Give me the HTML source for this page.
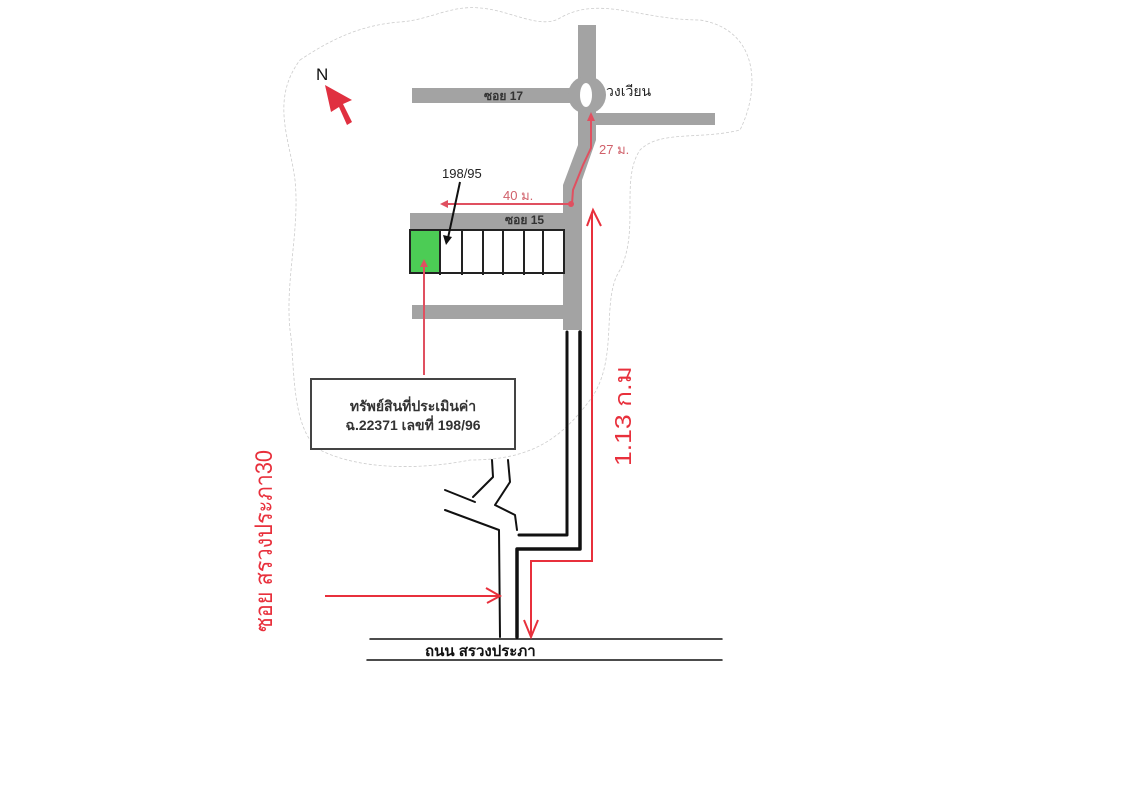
<!DOCTYPE html>
<html><head><meta charset="utf-8"><style>
html,body{margin:0;padding:0;background:#fff;width:1132px;height:800px;overflow:hidden}
svg{display:block}
</style></head><body>
<svg width="1132" height="800" viewBox="0 0 1132 800" xmlns="http://www.w3.org/2000/svg" font-family="Liberation Sans, Noto Sans CJK SC, sans-serif">
<path d="M300 60 C330 40 360 25 400 22 C430 20 450 5 480 8 C510 10 540 30 560 18 C600 -5 640 20 700 20 C760 30 760 90 740 130 C700 140 660 130 640 150 C620 180 640 230 620 270 C600 300 620 360 590 400 C560 440 530 460 470 460 C420 470 360 470 320 450 C290 430 295 360 290 330 C285 280 300 230 295 180 C290 140 270 100 300 60 Z" fill="none" stroke="#ccc" stroke-width="0.8" stroke-dasharray="3 2"/>
<g fill="#a3a3a3">
<rect x="578" y="25" width="18" height="80"/>
<rect x="412" y="88" width="165" height="15"/>
<rect x="590" y="113" width="125" height="12"/>
<path d="M578 100 L596 100 L596 140 L582 180 L582 330 L563 330 L563 185 L578 145 Z"/>
<circle cx="587" cy="95" r="19"/>
<rect x="410" y="213" width="160" height="17"/>
<rect x="412" y="305" width="158" height="14"/>
</g>
<ellipse cx="586" cy="95" rx="6" ry="12" fill="#fff"/>
<rect x="410" y="230" width="30" height="43" fill="#4ccc55"/>
<rect x="410" y="230" width="154" height="43" fill="none" stroke="#222" stroke-width="2"/>
<g stroke="#222" stroke-width="2">
<line x1="440" y1="230" x2="440" y2="275"/><line x1="462" y1="230" x2="462" y2="275"/>
<line x1="483" y1="230" x2="483" y2="275"/><line x1="503" y1="230" x2="503" y2="275"/>
<line x1="524" y1="230" x2="524" y2="275"/><line x1="543" y1="230" x2="543" y2="275"/>
</g>
<text x="484" y="100" font-size="12" font-weight="bold" fill="#333">ซอย 17</text>
<text x="606" y="96" font-size="14" fill="#222">วงเวียน</text>
<text x="505" y="224" font-size="12" font-weight="bold" fill="#333">ซอย 15</text>
<text x="442" y="178" font-size="13" fill="#222">198/95</text>
<text x="503" y="200" font-size="13" fill="#d0606a">40 ม.</text>
<text x="599" y="154" font-size="13" fill="#d0606a">27 ม.</text>
<text x="316" y="80" font-size="17" fill="#111">N</text>
<path d="M325 85 L352 100 L343 104 L352 122 L347 125 L339 107 L331 112 Z" fill="#e03040"/>
<g stroke="#e05060" stroke-width="2" fill="none">
<path d="M591 115 L591 148 L583 165 L573 190 L572 204 L445 204"/>
<line x1="424" y1="375" x2="424" y2="265"/>
</g>
<path d="M591 112 L587 121 L595 121 Z" fill="#e05060"/>
<path d="M440 204 L448 200 L448 208 Z" fill="#e05060"/>
<path d="M424 259 L420 267 L428 267 Z" fill="#e05060"/>
<circle cx="571" cy="204" r="3" fill="#e05060"/>
<line x1="460" y1="182" x2="448" y2="238" stroke="#111" stroke-width="2"/>
<path d="M446 245 L443 235 L452 237 Z" fill="#111"/>
<rect x="311" y="379" width="204" height="70" fill="#fff" stroke="#444" stroke-width="2"/>
<text x="413" y="411" font-size="14" fill="#333" text-anchor="middle" font-weight="bold">ทรัพย์สินที่ประเมินค่า</text>
<text x="413" y="430" font-size="14" fill="#333" text-anchor="middle" font-weight="bold">ฉ.22371 เลขที่ 198/96</text>
<g stroke="#111" fill="none" stroke-linecap="round" stroke-linejoin="round">
<path d="M567 332 L567 535 L519 535" stroke-width="3"/>
<path d="M580 332 L580 549 L517 549 L517 637" stroke-width="3.5"/>
<path d="M492 460 L493 477 L473 497" stroke-width="2"/>
<path d="M445 490 L475 502" stroke-width="2"/>
<path d="M508 460 L510 482 L495 505 L515 515 L517 530" stroke-width="2"/>
<path d="M445 510 L499 530 L500 637" stroke-width="2"/>
<line x1="370" y1="639" x2="722" y2="639" stroke-width="1.5"/>
<line x1="367" y1="660" x2="722" y2="660" stroke-width="1.5"/>
</g>
<text x="425" y="656" font-size="15" fill="#111" font-weight="bold">ถนน สรวงประภา</text>
<g stroke="#e8303c" stroke-width="2" fill="none">
<path d="M592 212 L592 561 L531 561 L531 636"/>
<path d="M587 226 L593 210 L601 226"/>
<path d="M524 620 L531 637 L538 620"/>
<line x1="325" y1="596" x2="500" y2="596"/>
<path d="M486 588 L500 596 L487 603"/>
</g>
<text transform="translate(631,466) rotate(-90)" font-size="23" fill="#e8303c" textLength="100" lengthAdjust="spacingAndGlyphs">1.13 ก.ม</text>
<text transform="translate(272,632) rotate(-90)" font-size="24" fill="#e8303c" textLength="182" lengthAdjust="spacingAndGlyphs">ซอย สรวงประภา30</text>
</svg>
</body></html>
